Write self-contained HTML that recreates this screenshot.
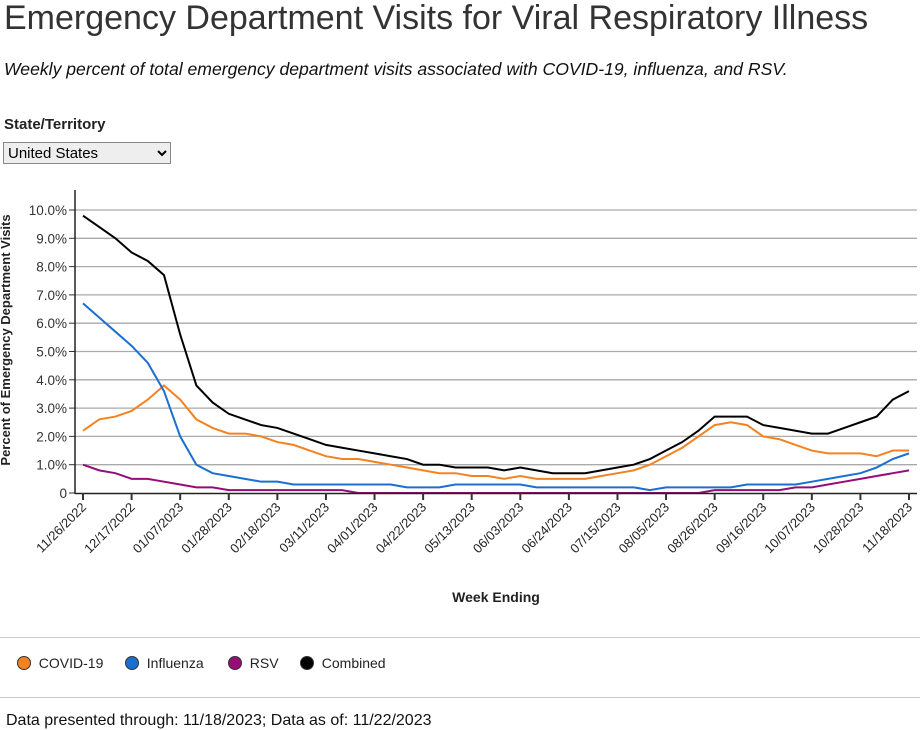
<!DOCTYPE html>
<html><head><meta charset="utf-8"><style>
body{margin:0;width:920px;height:729px;overflow:hidden;background:#fff;font-family:"Liberation Sans",sans-serif;color:#333;position:relative}
.abs{position:absolute}
</style></head><body>
<div class="abs" style="left:4px;top:-1px;font-size:34px;color:#333;white-space:nowrap">Emergency Department Visits for Viral Respiratory Illness</div>
<div class="abs" style="left:4px;top:59px;font-size:17.6px;font-style:italic;color:#111">Weekly percent of total emergency department visits associated with COVID-19, influenza, and RSV.</div>
<div class="abs" style="left:4px;top:116px;font-size:15px;font-weight:bold;color:#222">State/Territory</div>
<select class="abs" style="left:3px;top:142px;width:168px;height:22px;font-size:15px;font-family:'Liberation Sans',sans-serif;border:1px solid #888;background:#eee;padding:0"><option>United States</option></select>
<svg class="abs" style="left:0;top:0" width="920" height="729">
<g id="grid"></g><g id="lines"></g><g id="axes"></g>
<text transform="translate(10,340) rotate(-90)" text-anchor="middle" font-size="13" font-weight="bold" fill="#222">Percent of Emergency Department Visits</text>
<text x="496" y="602" text-anchor="middle" font-size="14" font-weight="bold" fill="#222">Week Ending</text>
</svg>
<div class="abs" style="left:0;top:637px;width:920px;height:59px;border-top:1px solid #ccc;border-bottom:1px solid #ccc;font-size:14px;color:#222">
<span class="abs" style="left:17px;top:17px;white-space:nowrap"><span style="display:inline-block;width:12px;height:12px;border-radius:50%;background:#f58220;border:1px solid #333;vertical-align:-2px"></span>&nbsp; COVID-19</span>
<span class="abs" style="left:125px;top:17px;white-space:nowrap"><span style="display:inline-block;width:12px;height:12px;border-radius:50%;background:#1a6fd1;border:1px solid #333;vertical-align:-2px"></span>&nbsp; Influenza</span>
<span class="abs" style="left:228px;top:17px;white-space:nowrap"><span style="display:inline-block;width:12px;height:12px;border-radius:50%;background:#960c79;border:1px solid #333;vertical-align:-2px"></span>&nbsp; RSV</span>
<span class="abs" style="left:300px;top:17px;white-space:nowrap"><span style="display:inline-block;width:12px;height:12px;border-radius:50%;background:#000;border:1px solid #333;vertical-align:-2px"></span>&nbsp; Combined</span>
</div>
<div class="abs" style="left:6px;top:712px;font-size:16px;color:#111;white-space:nowrap">Data presented through: 11/18/2023; Data as of: 11/22/2023</div>
<script>
const tickLabels=["11/26/2022","12/17/2022","01/07/2023","01/28/2023","02/18/2023","03/11/2023","04/01/2023","04/22/2023","05/13/2023","06/03/2023","06/24/2023","07/15/2023","08/05/2023","08/26/2023","09/16/2023","10/07/2023","10/28/2023","11/18/2023"];
const yTicks=[0,1,2,3,4,5,6,7,8,9,10];
const combined=[9.8,9.4,9.0,8.5,8.2,7.7,5.6,3.8,3.2,2.8,2.6,2.4,2.3,2.1,1.9,1.7,1.6,1.5,1.4,1.3,1.2,1.0,1.0,0.9,0.9,0.9,0.8,0.9,0.8,0.7,0.7,0.7,0.8,0.9,1.0,1.2,1.5,1.8,2.2,2.7,2.7,2.7,2.4,2.3,2.2,2.1,2.1,2.3,2.5,2.7,3.3,3.6];
const covid=[2.2,2.6,2.7,2.9,3.3,3.8,3.3,2.6,2.3,2.1,2.1,2.0,1.8,1.7,1.5,1.3,1.2,1.2,1.1,1.0,0.9,0.8,0.7,0.7,0.6,0.6,0.5,0.6,0.5,0.5,0.5,0.5,0.6,0.7,0.8,1.0,1.3,1.6,2.0,2.4,2.5,2.4,2.0,1.9,1.7,1.5,1.4,1.4,1.4,1.3,1.5,1.5];
const influenza=[6.7,6.2,5.7,5.2,4.6,3.6,2.0,1.0,0.7,0.6,0.5,0.4,0.4,0.3,0.3,0.3,0.3,0.3,0.3,0.3,0.2,0.2,0.2,0.3,0.3,0.3,0.3,0.3,0.2,0.2,0.2,0.2,0.2,0.2,0.2,0.1,0.2,0.2,0.2,0.2,0.2,0.3,0.3,0.3,0.3,0.4,0.5,0.6,0.7,0.9,1.2,1.4];
const rsv=[1.0,0.8,0.7,0.5,0.5,0.4,0.3,0.2,0.2,0.1,0.1,0.1,0.1,0.1,0.1,0.1,0.1,0,0,0,0,0,0,0,0,0,0,0,0,0,0,0,0,0,0,0,0,0,0,0.1,0.1,0.1,0.1,0.1,0.2,0.2,0.3,0.4,0.5,0.6,0.7,0.8];
const NS="http://www.w3.org/2000/svg";
const x0=83,x1=909,y0=493,y10=210;
const n=combined.length;
const xs=i=>x0+(x1-x0)*i/(n-1);
const ys=v=>y0-(y0-y10)*v/10;
const grid=document.getElementById('grid'),lines=document.getElementById('lines'),axes=document.getElementById('axes');
function mk(tag,attrs,parent){const e=document.createElementNS(NS,tag);for(const k in attrs)e.setAttribute(k,attrs[k]);parent.appendChild(e);return e;}
yTicks.forEach(v=>{
 if(v>0){const g=mk('line',{x1:75,x2:917,y1:ys(v),y2:ys(v),stroke:'#aaa','stroke-width':1.3},grid);
 
 }
 mk('line',{x1:69,x2:75,y1:ys(v),y2:ys(v),stroke:'#333'},axes);
 const t=mk('text',{x:67,y:ys(v)+5,'text-anchor':'end','font-size':13.5,fill:'#333'},axes);
 t.textContent=v===0?'0':v.toFixed(1)+'%';
 
 
});
mk('line',{x1:75,x2:75,y1:190,y2:494,stroke:'#222','stroke-width':1.5},axes);
mk('line',{x1:75,x2:917,y1:493.5,y2:493.5,stroke:'#222','stroke-width':1.5},axes);
tickLabels.forEach((lab,k)=>{
 const x=xs(k*3);
 mk('line',{x1:x,x2:x,y1:493,y2:500,stroke:'#333','stroke-width':2},axes);
 const t=mk('text',{transform:`translate(${x+4},${508}) rotate(-45)`,'text-anchor':'end','font-size':13,fill:'#222'},axes);
 t.textContent=lab;
 
 
});
[[covid,'#f58220','covid-line'],[influenza,'#1a6fd1','influenza-line'],[rsv,'#960c79','rsv-line'],[combined,'#000','combined-line']].forEach(([d,c,name])=>{
 const p=mk('polyline',{points:d.map((v,i)=>xs(i)+','+ys(v)).join(' '),fill:'none',stroke:c,'stroke-width':2},lines);
 
 
});
</script>
</body></html>
